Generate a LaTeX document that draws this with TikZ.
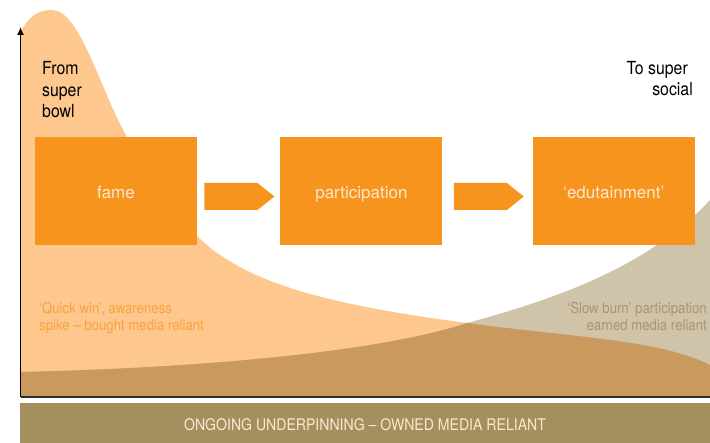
\documentclass[tikz,border=0pt]{standalone}
\usepackage{fontspec}
\setmainfont[FakeStretch=0.88]{TeX Gyre Heros}
\newfontfamily\boxfont{TeX Gyre Heros}
\usetikzlibrary{positioning,calc,arrows.meta,shapes.symbols}
\definecolor{spike}{HTML}{FDC78E}
\definecolor{burn}{HTML}{CFC3A9}
\definecolor{overlap}{HTML}{C9995D}
\definecolor{boxorange}{HTML}{F7941E}
\definecolor{owned}{HTML}{A48F5E}
\definecolor{cream}{HTML}{FCE8CF}
\definecolor{quicktxt}{HTML}{F8A33E}
\definecolor{slowtxt}{HTML}{A99670}
\definecolor{axisgray}{HTML}{2B2B2B}
%% the two audience curves, closed down to the baseline
\newcommand{\spikecurve}{(20,397) -- (20,33) .. controls (30,14) and (40,10) .. (52,10)
  .. controls (80,10) and (100,90) .. (127,137) .. controls (150,180) and (170,215) .. (213,250)
  .. controls (260,285) and (330,305) .. (467,323) .. controls (580,338) and (660,340) .. (710,365)
  -- (710,397) -- cycle}
\newcommand{\burncurve}{(20,397) -- (20,372) .. controls (200,368) and (380,352) .. (467,323)
  .. controls (560,298) and (650,265) .. (710,200) -- (710,397) -- cycle}
\tikzset{
  stage/.style={fill=boxorange, text=cream, minimum width=162pt, minimum height=108pt,
    inner sep=0pt, text height=18pt, text depth=2pt, font=\boxfont\fontsize{17}{20}\selectfont},
  blockarrow/.style={signal, signal to=east, signal pointer angle=77, fill=boxorange,
    minimum width=70pt, minimum height=27pt, inner sep=0pt, yshift=-5.5pt},
  note/.style={inner sep=0pt, font=\fontsize{15}{17}\selectfont}
}
\begin{document}
\begin{tikzpicture}[x=1pt,y=-1pt]
		\useasboundingbox (0,0) rectangle (710,443);
		%% Background areas: first the two curves, then the part where they overlap
		\fill[spike] \spikecurve;
		\fill[burn] \burncurve;
		\begin{scope}
			\clip \spikecurve;
			\fill[overlap] \burncurve;
		\end{scope}
		%% Axes
		\coordinate (origin) at (20.5,397);
		\coordinate (ytop) at (20.5,27);
		\coordinate (xend) at (710,397);
		\draw[line width=1.2pt, color=axisgray] (origin) -- (xend);
		\draw[line width=1.2pt, -{Latex[length=8pt,width=7pt]}] (origin) -- (ytop);
		%% Owned media band along the bottom
		\node[fill=owned, text=cream, minimum width=690pt, minimum height=40pt, inner sep=0pt,
			text height=18pt, text depth=2pt, font=\fontsize{16}{19}\selectfont] (ownedband) at (365,423)
			{ONGOING UNDERPINNING – OWNED MEDIA RELIANT};
		%% The three stages and the arrows between them
		\node[stage] (fame) at (116,191) {fame};
		\node[stage, right=83pt of fame] (participation) {participation};
		\node[stage, right=90pt of participation] (edutainment) {‘edutainment’};
		\node[blockarrow, right=7pt of fame] (famearrow) {};
		\node[blockarrow, right=11pt of participation] (partarrow) {};
		%% Labels (anchored at the baseline of the last line)
		\node[anchor=base west, align=left, inner sep=0pt, font=\fontsize{18}{21.5}\selectfont] (frombowl) at (42,118) {From\\super\\bowl};
		\node[anchor=base east, align=right, inner sep=0pt, font=\fontsize{18}{21.5}\selectfont] (tosocial) at (693,96) {To super\hspace*{5pt}\\social};
		\node[note, anchor=base west, align=left, text=quicktxt] (quickwin) at (39,331) {‘Quick win’, awareness\\spike – bought media reliant};
		\node[note, anchor=base east, align=right, text=slowtxt] (slowburn) at (707,331) {‘Slow burn’ participation\\earned media reliant};
	\end{tikzpicture}
\end{document}
